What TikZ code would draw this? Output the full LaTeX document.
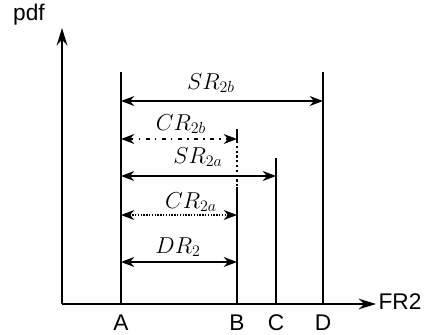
\documentclass[tikz,border=0pt]{standalone}
\usepackage{fontspec}
\setsansfont{Liberation Sans}
\usetikzlibrary{arrows.meta}

\begin{document}
\begin{tikzpicture}[
    x=0.75pt,y=-0.75pt,
    axis/.style={line width=1.6pt, -{Stealth[length=13pt,width=8pt]}},
    bar/.style={line width=1.6pt},
    span/.style={line width=1.1pt, {Stealth[length=10pt,width=7.5pt]}-{Stealth[length=10pt,width=7.5pt]}},
    lbl/.style={font=\sffamily\fontsize{17}{17}\selectfont, inner sep=1pt},
    mlbl/.style={font=\fontsize{18}{18}\selectfont, inner sep=1pt}
]
    \useasboundingbox (0,0) rectangle (429,335);

    % axes
    \coordinate (O) at (62,304);
    \coordinate (ytip) at (62,28);
    \coordinate (xtip) at (376,304);
    \draw[axis] (O) -- (ytip);
    \draw[axis] (O) -- (xtip);
    \node[lbl] (pdf) at (29,15) {pdf};
    \node[lbl, anchor=west] (fr) at (377,302) {FR2};

    % vertical bounds
    \foreach \n/\x/\t in {A/121/72, B/237/187, C/276/158, D/323/72} {
        \coordinate (\n) at (\x,304);
        \coordinate (top\n) at (\x,\t);
        \draw[bar] (\n) -- (top\n);
        \node[lbl] (lbl\n) at (\x,323) {\n};
    }
    \coordinate (hiB) at (237,129);
    \coordinate (midB) at (237,141);
    \draw[bar] (hiB) -- (midB);
    \draw[bar, dotted] (midB) -- (topB);

    % ranges
    \foreach \r/\y/\e/\s in {sr2b/101/D/solid, cr2b/139/B/loosely dash dot, sr2a/176/C/solid, cr2a/215/B/densely dotted, dr2/262/B/solid} {
        \coordinate (\r L) at (121,\y);
        \coordinate (\r R) at (\e |- \r L);
        \draw[span, \s] (\r L) -- (\r R);
    }

    \node[mlbl] (tsr2b) at (211,83) {$SR_{2b}$};
    \node[mlbl] (tcr2b) at (181,124) {$CR_{2b}$};
    \node[mlbl] (tsr2a) at (198,157) {$SR_{2a}$};
    \node[mlbl] (tcr2a) at (191,202) {$CR_{2a}$};
    \node[mlbl] (tdr2) at (178,247) {$DR_2$};
\end{tikzpicture}
\end{document}
